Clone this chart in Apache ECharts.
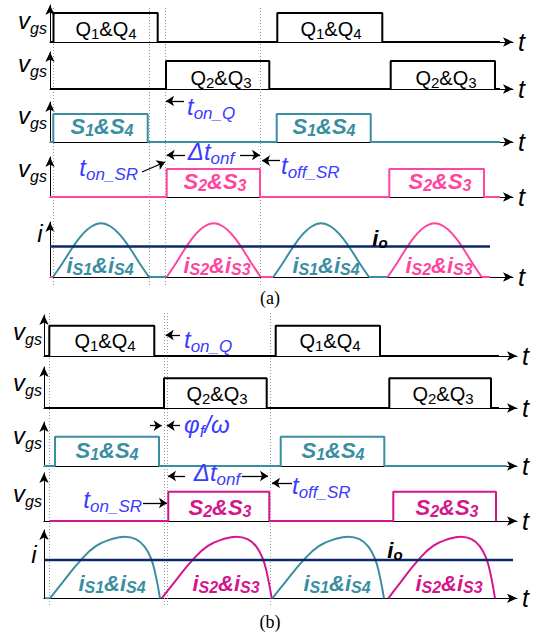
<!DOCTYPE html>
<html><head><meta charset="utf-8">
<script src="https://cdn.jsdelivr.net/npm/echarts@6/dist/echarts.min.js"></script>
<style>html,body{margin:0;padding:0;background:#fff}#c{width:541px;height:638px}</style>
</head><body><div id="c"></div>
<script>
// ===== DATA (time units along each panel's t-axis; levels: 0 = low, 1 = high) =====
// Panel (a)
const aQ14 = [[3.5, 107.7], [227.3, 332.3]];
const aQ23 = [[116, 219.3], [340.7, 445]];
const aS14 = [[3.3, 97.7], [226.7, 320.7]];
const aS23 = [[116.7, 210], [339.3, 434]];
const aEvents = [3.3, 99, 115.7, 210.7];
// current humps: [start, end, flat-until]
const aIS14 = [[3, 99, 116.7], [223.3, 319, 337.7]];
const aIS23 = [[116.7, 210.7, 223.3], [337.7, 431.7, 440]];
const aIS23Lead = [0, 3];
const aIoLevel = 0.57;
const aIoSpan = [0, 440];
const humpAu = [0, 0.1, 0.2, 0.3, 0.4, 0.5, 0.6, 0.7, 0.8, 0.9, 1];
const humpAv = [0, 0.26, 0.54, 0.78, 0.94, 1, 0.94, 0.78, 0.54, 0.26, 0];
// Panel (b)
const bQ14 = [[5.3, 110.3], [231.7, 336]];
const bQ23 = [[120, 222.7], [345.3, 447]];
const bS14 = [[11, 115], [236.7, 340.3]];
const bS23 = [[124.3, 225.3], [349.3, 452]];
const bEvents = [5.3, 120, 123, 226];
const bIS14 = [[6, 116, 116], [228.3, 340, 340]];
const bIS23 = [[117.7, 227.7, 227.7], [344.3, 451, 451]];
const bIS14Lead = [1, 6];
const bIoLevel = 0.62;
const bIoSpan = [1, 469];
const humpBu = [0, 0.12, 0.27, 0.42, 0.58, 0.68, 0.78, 0.86, 0.92, 0.96, 1];
const humpBv = [0, 0.27, 0.6, 0.85, 0.97, 1, 0.96, 0.84, 0.64, 0.38, 0];
// annotation arrows [t, y(px)] -> [t, y(px)]
const aArrows = [[[134, 101], [116, 101]], [[135, 155], [116.7, 155]], [[190, 155], [210, 155]], [[92, 172], [115, 162]], [[230, 160.7], [212, 160.7]]];
const bArrows = [[[136, 335], [121.7, 335]], [[106, 425.7], [117.7, 425.7]], [[136, 425.7], [122.7, 425.7]], [[141, 476], [124, 476]], [[198, 476], [224, 476]], [[99, 503], [123, 503]], [[248, 483], [228, 483]]];

// ===== STYLE / LAYOUT =====
const FONT = 'Liberation Sans';
const BLACK = '#000', TEAL = '#3a8ea2', PINK = '#ff45a0', MAG = '#d3168d', BLUE = '#3b3bff', NAVY = '#0c2868';
const panels = [
  { left: 50, right: 28, xmax: 463, dot: [8, 285], rows: [
    { top: 5, high: 13, base: 42 }, { top: 52, high: 61, base: 89 }, { top: 102, high: 114, base: 142 },
    { top: 157, high: 169, base: 197 }, { top: 222, high: 223.3, base: 277 }] },
  { left: 44, right: 24, xmax: 473, dot: [313, 605], rows: [
    { top: 315, high: 325.7, base: 356 }, { top: 367, high: 378.3, base: 408 }, { top: 422, high: 436.7, base: 466 },
    { top: 473, high: 491.7, base: 521 }, { top: 530, high: 536.7, base: 598.3 }] }
];

const grid = [], xAxis = [], yAxis = [], series = [];
function addGrid(left, right, top, height, xmax, ymin, ymax, visible, inverse) {
  const i = grid.length;
  grid.push({ left, right, top, height, containLabel: false, outerBoundsMode: 'none' });
  xAxis.push({
    gridIndex: i, type: 'value', min: 0, max: xmax, show: visible,
    axisLine: { show: true, onZero: false, symbol: ['none', 'arrow'], symbolSize: [7, 10], lineStyle: { color: '#000', width: 1 } },
    axisTick: { show: false }, axisLabel: { show: false }, splitLine: { show: false },
    name: 't', nameLocation: 'end', nameGap: 5,
    nameTextStyle: { fontSize: 25, fontStyle: 'italic', fontFamily: FONT, color: '#000', verticalAlign: 'middle' }
  });
  yAxis.push({
    gridIndex: i, type: 'value', min: ymin, max: ymax, show: visible, inverse: !!inverse,
    axisLine: { show: true, onZero: false, symbol: ['none', 'arrow'], symbolSize: [7, 10], lineStyle: { color: '#000', width: 1 } },
    axisTick: { show: false }, axisLabel: { show: false }, splitLine: { show: false }
  });
  return i;
}
function pulseData(pulses, t0, t1) {
  const pts = [[t0, 0]];
  pulses.forEach(([a, b]) => { pts.push([a, 0], [a, 1], [b, 1], [b, 0]); });
  pts.push([t1, 0]);
  return pts;
}
function lineS(g, data, color, width, extra) {
  series.push(Object.assign({ type: 'line', xAxisIndex: g, yAxisIndex: g, data, symbol: 'none', silent: true,
    lineStyle: { color, width }, z: 3 }, extra || {}));
}
function humps(g, list, u, v, color) {
  list.forEach(([s, e, f]) => {
    lineS(g, u.map((uu, k) => [s + uu * (e - s), v[k]]), color, 2, { smooth: 0.45 });
    if (f > e) lineS(g, [[e, 0], [f, 0]], color, 2);
  });
}

const pa = panels[0], pb = panels[1];
const gA = pa.rows.map(r => addGrid(pa.left, pa.right, r.top, r.base - r.top, pa.xmax, 0, (r.base - r.top) / (r.base - r.high), true));
const gB = pb.rows.map(r => addGrid(pb.left, pb.right, r.top, r.base - r.top, pb.xmax, 0, (r.base - r.top) / (r.base - r.high), true));
const oA = addGrid(pa.left, pa.right, 0, 638, pa.xmax, 0, 638, false, true);
const oB = addGrid(pb.left, pb.right, 0, 638, pb.xmax, 0, 638, false, true);

// panel (a)
lineS(gA[0], pulseData(aQ14, 0, 450), BLACK, 2);
lineS(gA[1], pulseData(aQ23, 0, 450), BLACK, 2);
lineS(gA[2], pulseData(aS14, 0, 450), TEAL, 2);
lineS(gA[3], pulseData(aS23, 0, 450), PINK, 2);
lineS(gA[4], [[aIoSpan[0], aIoLevel], [aIoSpan[1], aIoLevel]], NAVY, 2.5, { z: 4 });
lineS(gA[4], [[aIS23Lead[0], 0], [aIS23Lead[1], 0]], PINK, 2);
humps(gA[4], aIS14, humpAu, humpAv, TEAL);
humps(gA[4], aIS23, humpAu, humpAv, PINK);
// panel (b)
lineS(gB[0], pulseData(bQ14, 0, 455), BLACK, 2);
lineS(gB[1], pulseData(bQ23, 0, 455), BLACK, 2);
lineS(gB[2], pulseData(bS14, 0, 462.7), TEAL, 2);
lineS(gB[3], pulseData(bS23, 6, 452), MAG, 2);
lineS(gB[4], [[bIoSpan[0], bIoLevel], [bIoSpan[1], bIoLevel]], NAVY, 2.5, { z: 4 });
lineS(gB[4], [[bIS14Lead[0], 0], [bIS14Lead[1], 0]], TEAL, 2);
humps(gB[4], bIS14, humpBu, humpBv, TEAL);
humps(gB[4], bIS23, humpBu, humpBv, MAG);

// dotted event lines + annotation arrows
[[oA, aEvents, pa.dot, aArrows], [oB, bEvents, pb.dot, bArrows]].forEach(([g, ev, dot, arr]) => {
  series.push({ type: 'lines', coordinateSystem: 'cartesian2d', xAxisIndex: g, yAxisIndex: g, silent: true, z: 1,
    data: ev.map(t => ({ coords: [[t, dot[0]], [t, dot[1]]] })),
    lineStyle: { color: '#9a9a9a', width: 1, type: [1, 2], opacity: 1 } });
  series.push({ type: 'lines', coordinateSystem: 'cartesian2d', xAxisIndex: g, yAxisIndex: g, silent: true, z: 5,
    symbol: ['none', 'arrow'], symbolSize: 8,
    data: arr.map(c => ({ coords: c })),
    lineStyle: { color: '#000', width: 1.3, opacity: 1 } });
});

// ===== TEXT =====
const graphic = [];
function label(x, cy, parts, o) {
  const m = o.m, s = o.s;
  const off = Math.round(0.85 * m - 0.85 * s + (o.subDrop || 0.2) * m);
  const common = { fontFamily: o.family || FONT, fontStyle: o.italic ? 'italic' : 'normal', fontWeight: o.bold ? 'bold' : 'normal', fill: o.color || '#000', verticalAlign: 'top' };
  const text = parts.map(([t, sub]) => '{' + (sub ? 's' : 'm') + '|' + t + '}').join('');
  graphic.push({ type: 'text', x, y: cy - m / 2, z: 100, silent: true,
    style: { text, align: o.align || 'center', verticalAlign: 'top',
      rich: { m: Object.assign({ fontSize: m, lineHeight: m }, common), s: Object.assign({ fontSize: s, lineHeight: s, padding: [off, 0, 0, 0] }, common) } } });
}
const vgs = [['v', 0], ['gs', 1]];
const Q = { m: 20, s: 15, subDrop: 0.12 };
const SB = (c) => ({ m: 22, s: 16, bold: true, italic: true, color: c, subDrop: 0.1 });
const T = { m: 24, s: 17, italic: true, color: BLUE };
const IS = (c) => ({ m: 22, s: 16, bold: true, italic: true, color: c, subDrop: 0.1 });
// panel (a)
[20, 63, 115, 168].forEach(y => label(47, y, vgs, { m: 24, s: 16, italic: true, align: 'right' }));
label(40, 233, [['i', 0]], { m: 24, s: 16, italic: true });
[106, 331].forEach(x => label(x, 29, [['Q', 0], ['1', 1], ['&Q', 0], ['4', 1]], Q));
[221, 446].forEach(x => label(x, 78, [['Q', 0], ['2', 1], ['&Q', 0], ['3', 1]], Q));
[102, 324].forEach(x => label(x, 126, [['S', 0], ['1', 1], ['&S', 0], ['4', 1]], SB(TEAL)));
[215, 440].forEach(x => label(x, 181, [['S', 0], ['2', 1], ['&S', 0], ['3', 1]], SB(PINK)));
label(187, 106, [['t', 0], ['on_Q', 1]], Object.assign({ align: 'left' }, T));
label(211, 151, [['Δt', 0], ['onf', 1]], T);
label(138, 167, [['t', 0], ['on_SR', 1]], Object.assign({ align: 'right' }, T));
label(281, 165, [['t', 0], ['off_SR', 1]], Object.assign({ align: 'left' }, T));
label(380, 238, [['i', 0], ['o', 1]], { m: 22, s: 15, bold: true, italic: true, subDrop: 0.1 });
[100, 326].forEach(x => label(x, 265, [['i', 0], ['S1', 1], ['&i', 0], ['S4', 1]], IS(TEAL)));
[217, 439].forEach(x => label(x, 265, [['i', 0], ['S2', 1], ['&i', 0], ['S3', 1]], IS(PINK)));
label(270, 298, [['(a)', 0]], { m: 18, s: 12, family: 'Liberation Serif' });
// panel (b)
[331, 382, 435, 493].forEach(y => label(42, y, vgs, { m: 24, s: 16, italic: true, align: 'right' }));
label(34, 554, [['i', 0]], { m: 24, s: 16, italic: true });
[105, 330].forEach(x => label(x, 341, [['Q', 0], ['1', 1], ['&Q', 0], ['4', 1]], Q));
[217, 443].forEach(x => label(x, 394, [['Q', 0], ['2', 1], ['&Q', 0], ['3', 1]], Q));
[107, 333].forEach(x => label(x, 450, [['S', 0], ['1', 1], ['&S', 0], ['4', 1]], SB(TEAL)));
[220, 447].forEach(x => label(x, 507, [['S', 0], ['2', 1], ['&S', 0], ['3', 1]], SB(MAG)));
label(184, 339, [['t', 0], ['on_Q', 1]], Object.assign({ align: 'left' }, T));
label(184, 424, [['φ', 0], ['f', 1], ['/ω', 0]], Object.assign({ align: 'left' }, T));
label(217, 472, [['Δt', 0], ['onf', 1]], T);
label(142, 499, [['t', 0], ['on_SR', 1]], Object.assign({ align: 'right' }, T));
label(292, 485, [['t', 0], ['off_SR', 1]], Object.assign({ align: 'left' }, T));
label(395, 550, [['i', 0], ['o', 1]], { m: 22, s: 15, bold: true, italic: true, subDrop: 0.1 });
[112, 337].forEach(x => label(x, 583, [['i', 0], ['S1', 1], ['&i', 0], ['S4', 1]], IS(TEAL)));
[226, 449].forEach(x => label(x, 583, [['i', 0], ['S2', 1], ['&i', 0], ['S3', 1]], IS(MAG)));
label(270, 622, [['(b)', 0]], { m: 18, s: 12, family: 'Liberation Serif' });

const chart = echarts.init(document.getElementById('c'), null, { renderer: 'svg', width: 541, height: 638 });
chart.setOption({ animation: false, backgroundColor: '#fff', grid, xAxis, yAxis, series, graphic });
</script></body></html>
